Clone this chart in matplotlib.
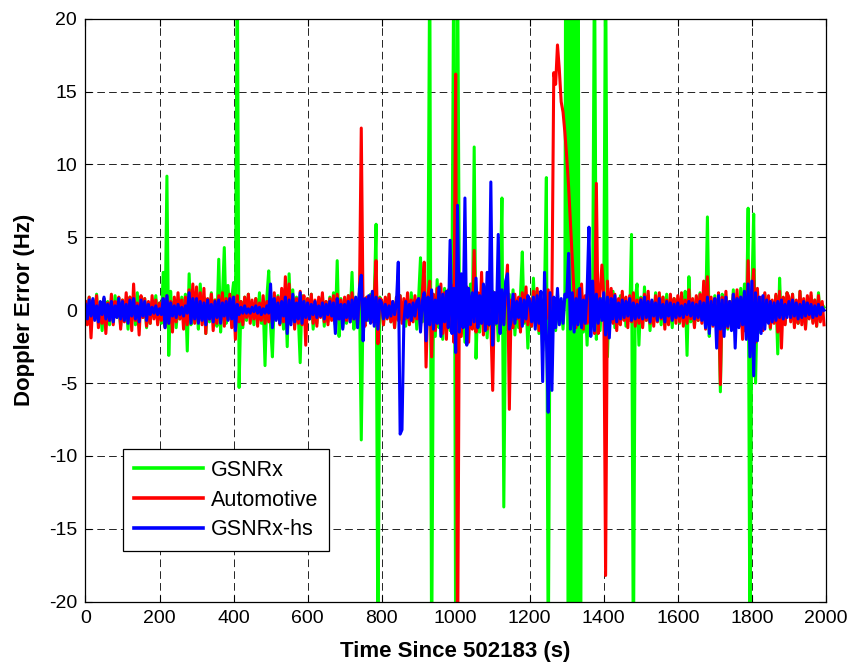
import numpy as np
import matplotlib
matplotlib.use("Agg")
import matplotlib.pyplot as plt

plt.rcParams["font.family"] = ["Liberation Sans", "DejaVu Sans"]
plt.rcParams["axes.unicode_minus"] = False
plt.rcParams["lines.scale_dashes"] = False

# one sample every 5 s
t = np.arange(0, 2000, 5)

gsnrx = [
    0.3, -0.8, 0.9, -1.2, 0.5, -0.4, 1.1, -0.9, 0.2, -1.4, 0.8, -0.3, 0.6, -1.0, 0.4, -0.7, 1.0, -0.5, 0.3, -1.1,
    0.7, -0.6, 0.2, -1.3, 0.9, -0.4, 0.5, -1.0, 1.2, -0.8, 0.3, -0.5, 0.8, -1.2, 0.4, -0.9, 0.6, -0.3, 1.0, -0.7,
    0.5, -0.9, 2.6, -1.1, 9.2, -3.1, 1.3, -0.8, 0.6, -1.2, 0.4, -0.6, 0.9, -0.5, 1.1, -2.8, 2.5, -1.0, 0.7, -0.4,
    0.4, -1.3, 1.8, -0.5, 0.9, -1.6, 0.6, -0.8, 1.2, -0.4, 0.7, -1.1, 3.5, -1.5, 0.9, 4.3, -0.9, 1.7, -0.6, 0.8,
    1.9, -1.0, 25.0, -5.3, 0.6, -1.2, 0.9, -0.7, 1.1, -0.5, 0.4, -1.0, 0.8, -0.6, 1.2, -0.9, 0.5, -3.8, 0.9, 2.7,
    -1.1, -3.2, 0.8, -0.6, 1.0, -0.9, 0.6, -1.3, 1.2, -2.5, 2.5, -0.8, 1.4, -1.0, 0.9, -0.5, -3.6, 1.0, -0.8, 0.6,
    0.8, -0.6, 1.1, -1.3, 0.5, -0.9, 0.7, -0.4, 1.0, -1.1, 0.6, -0.8, 0.9, -0.5, 1.2, -1.0, 3.4, -1.8, 0.8, -1.2,
    0.5, -0.9, 1.0, -0.6, 2.6, -1.3, 0.7, -0.5, 1.2, -8.9, 0.6, -1.0, 0.9, -0.7, 1.1, -0.6, 0.8, 5.9, -25.0, 0.9,
    0.6, -1.0, 0.8, -0.5, 1.1, -0.8, 0.5, -1.2, 0.9, -0.6, 1.0, -0.7, 0.4, -1.1, 0.8, -0.9, 1.2, -0.5, 0.7, -1.3,
    0.9, 3.6, -0.8, 1.2, -1.5, 0.7, 25.0, -25.0, 1.0, -1.8, 2.1, -1.2, 0.8, -2.0, 1.5, -1.0, 0.9, -1.4, 1.9, 25.0,
    -25.0, 25.0, 1.0, -1.6, 0.8, -2.2, 1.4, -0.9, 1.8, -1.2, 11.2, -3.3, 0.9, -1.5, 1.2, -0.7, 1.6, -1.9, 0.8, -1.1,
    1.3, -1.0, 0.7, -2.1, 1.5, 7.7, -13.5, 0.9, -1.3, 1.1, -0.8, 1.4, -1.7, 0.6, -1.2, 1.0, 4.0, -0.9, 0.8, -2.6,
    0.7, -1.1, 2.2, -0.8, 1.3, -1.6, 0.9, -2.8, 1.0, 9.1, -25.0, 1.2, -1.9, 0.8, -1.4, 1.1, -0.9, 0.6, -1.3, 1.0,
    60.0, -60.0, 60.0, -60.0, 60.0, -60.0, 60.0, -60.0, 1.2, -1.5, 0.9, -2.4, 1.6, -0.8, 1.3, 25.0, -2.0, 1.0, -1.4, 0.8,
    0.6, 25.0, -3.2, 1.1, -0.8, 1.3, -1.2, 0.7, -0.9, 1.0, -0.6, 0.8, -1.1, 0.5, -0.7, 5.2, -25.0, 0.8, 1.8, -2.4,
    0.9, -1.1, 1.6, -0.7, 1.0, -1.4, 0.6, -0.8, 1.2, -0.5, 0.7, -1.0, 0.9, -0.6, 1.1, -0.9, 0.5, -1.2, 0.8, -0.4,
    0.7, -0.9, 1.0, -0.5, 1.3, -3.1, 2.3, -0.8, 0.6, -1.1, 0.9, -0.7, 1.2, -0.6, 0.8, -1.0, 6.4, -1.8, 0.7, -0.9,
    1.0, -1.2, 0.8, -5.6, 1.1, -0.7, 0.9, -1.3, 0.6, -1.0, 1.4, -0.8, 0.7, -1.1, 1.5, -0.9, 1.8, -1.4, 7.0, -25.0,
    1.2, 6.6, -5.0, 1.0, -1.5, 0.8, -1.2, 1.1, -0.7, 0.9, -1.3, 0.6, -0.8, 1.0, -3.0, 2.2, -1.1, 0.7, -0.9, 1.2,
    0.8, -0.6, 1.1, -1.0, 0.5, -0.9, 1.3, -0.7, 0.6, -1.2, 0.9, -0.5, 1.0, -0.8, 0.7, -1.1, 1.2, -0.6, 0.4, 0.2,
]

automotive = [
    0.6, -1.0, 0.9, -1.9, 0.7, -0.5, 1.0, -1.2, 0.4, -0.9, 0.8, -1.6, 0.5, -0.7, 1.1, -1.0, 0.6, -0.4, 0.9, -1.3,
    0.7, -0.8, 1.2, -0.6, 0.9, -1.4, 1.8, -0.7, 0.5, -1.7, 1.0, -0.5, 0.8, -1.1, 0.6, -0.9, 1.0, -0.6, 0.7, -1.0,
    0.5, -0.7, 0.8, -1.2, 1.0, -0.9, 0.6, -1.5, 0.9, -0.8, 1.2, -0.6, 0.7, -1.3, 0.9, -1.0, 1.4, -0.7, 1.8, -0.9,
    1.6, -0.8, 1.2, -1.0, 1.5, -1.6, 0.8, -0.6, 1.1, -1.4, 0.7, -0.9, 1.0, -0.7, 1.2, -1.1, 0.8, -0.6, 1.1, -1.2,
    0.9, -2.0, 1.0, -0.8, 0.6, -1.0, 0.9, -0.5, 1.1, -0.9, 0.7, -0.6, 0.8, -1.1, 0.5, -0.7, 1.0, -0.9, 0.6, -0.8,
    0.7, -0.9, 1.2, -0.6, 0.9, -1.0, 1.5, -0.8, 2.3, -1.2, 1.8, -0.7, 1.0, -1.3, 0.8, -0.9, 1.3, -1.0, 1.0, -2.4,
    0.8, -0.6, 1.1, -0.9, 0.7, -1.1, 0.9, -0.5, 1.2, -0.8, 0.6, -1.0, 0.8, -0.7, 1.0, -0.9, 1.1, -0.6, 0.7, -0.8,
    0.9, -0.7, 1.0, -0.8, 1.2, -0.6, 0.8, -1.0, 0.7, 12.5, -0.3, -1.1, 0.9, -0.6, 1.0, -0.8, 0.7, 3.4, -2.3, 0.8,
    0.7, -1.0, 0.9, -0.6, 1.1, -0.8, 0.6, -1.2, 0.9, -0.7, 1.0, -0.9, 0.8, -0.6, 1.2, -1.0, 0.7, -0.8, 1.0, -0.6,
    0.8, -1.1, 1.3, 3.3, -3.9, 1.0, 2.0, -3.2, 1.1, -1.4, 1.5, -0.9, 1.8, -1.6, 1.2, -2.0, 1.4, -1.1, 1.7, -2.2,
    16.2, -25.0, 1.5, -1.8, 2.1, -1.0, 1.6, -2.2, 0.9, -1.3, 4.1, -1.5, 1.2, -0.9, 2.6, -1.7, 1.0, -1.3, 1.8, -0.8,
    -5.5, 1.2, -0.8, 1.4, -1.4, 1.0, -0.9, 1.3, 3.1, -6.8, 0.7, -1.2, 1.1, -0.6, 0.9, -1.5, 1.2, -0.8, 1.6, -1.0,
    0.8, -1.1, 1.3, -0.9, 1.5, -1.4, 0.7, -1.8, 1.2, -0.6, 1.4, -1.0, 1.0, 16.3, 15.5, 18.2, 16.5, 14.3, 13.6, 12.2,
    10.5, 8.5, 6.0, 3.5, 1.0, -1.2, 1.4, -0.8, 1.8, -1.3, 1.0, -0.9, 2.2, -1.1, 1.2, -1.6, 8.7, -1.6, 1.2, 3.1,
    1.0, -18.2, 2.0, -1.2, 1.5, -0.9, 1.1, -1.4, 0.8, -1.0, 1.3, -0.7, 0.9, -1.2, 1.0, -0.8, 1.2, -1.1, 0.7, -0.9,
    0.8, -1.2, 1.1, -0.7, 1.3, -0.9, 0.6, -1.1, 1.0, -0.8, 1.2, -0.6, 0.9, -1.3, 0.7, -1.0, 1.1, -0.6, 0.8, -0.9,
    1.0, -0.8, 1.2, -1.1, 0.7, -0.9, 1.4, -0.6, 0.8, -1.2, 1.0, -0.7, 1.1, -0.9, 2.0, -1.3, 2.3, -1.0, 0.9, -1.1,
    0.8, -1.0, 1.2, -5.1, 0.9, -0.7, 1.3, -1.2, 0.6, -0.9, 1.1, -0.8, 1.4, -1.1, 0.9, -2.0, 1.2, -1.5, 3.4, -1.8,
    1.0, 2.8, -2.2, 1.5, -1.1, 0.9, -1.4, 1.2, -0.8, 1.0, -1.2, 0.7, -0.9, 1.1, -1.5, 1.3, -2.6, 0.9, -1.0, 1.2,
    0.9, -0.8, 1.1, -1.2, 0.7, -0.9, 1.3, -1.0, 0.8, -1.3, 1.0, -0.6, 1.2, -0.9, 0.7, -1.1, 1.0, -0.8, 0.6, -1.0,
]

gsnrx_hs = [
    0.4, -0.6, 0.7, -0.4, 0.8, -0.7, 0.3, -0.8, 0.6, -0.3, 0.9, -0.6, 0.4, -0.7, 0.6, -0.8, 0.3, -0.5, 0.8, -0.6,
    0.6, -0.7, 0.4, -0.9, 0.7, -0.4, 0.8, -0.6, 0.3, -0.8, 0.7, -0.4, 0.6, -0.7, 0.4, -0.3, 0.2, -0.2, 0.3, -0.3,
    0.1, -0.3, 0.8, -1.2, 1.0, -0.9, 0.5, -0.4, 0.3, -0.5, 0.4, -0.3, 0.2, -0.4, 0.3, -0.2, 1.2, -0.9, 0.8, -0.6,
    0.8, -0.9, 0.6, -0.7, 0.5, -1.0, 0.7, -0.6, 0.4, -0.8, 0.6, -0.5, 0.7, -0.9, 0.5, -0.4, 0.6, -0.7, 0.8, -0.6,
    0.9, -1.4, 0.4, -0.3, 0.2, -0.2, 0.3, -0.2, 0.1, -0.2, 0.2, -0.1, 0.3, -0.2, 0.2, -0.3, 0.1, -0.2, 0.3, -0.2,
    1.8, -1.2, 0.8, -0.7, 0.5, -0.9, 0.6, -0.4, 0.9, -1.6, 0.7, -1.0, 1.1, -0.8, 0.5, -0.6, 1.2, -0.9, 0.6, -0.5,
    0.5, -0.6, 0.4, -0.3, 0.6, -0.5, 0.3, -0.4, 0.5, -0.6, 0.4, -0.3, 0.6, -0.4, 0.5, -1.6, 0.8, -0.6, 0.4, -1.3,
    0.4, -0.5, 0.6, -0.8, 0.7, -0.6, 0.9, -1.2, 1.5, 2.4, -2.1, 0.8, -0.7, 1.0, -0.9, 1.3, -1.1, 0.9, -1.3, 0.7,
    0.5, -0.6, 0.4, -0.5, 0.3, -0.4, 0.6, -0.3, 0.5, 3.3, -8.5, -8.2, -0.8, 0.6, -0.5, 0.4, -0.7, 0.5, -0.4, 0.6,
    0.8, -1.5, 0.6, 1.2, -2.1, 0.9, -1.0, 1.4, -1.3, 0.7, -0.9, 1.6, -1.8, 1.1, -0.8, 1.3, -1.2, 4.8, -1.6, 1.5,
    -2.9, 7.2, -1.5, 2.5, -1.2, 7.7, -2.4, 1.5, -1.0, 1.2, -0.8, 2.2, -1.2, 1.0, -0.9, 1.8, -1.4, 2.6, -1.0, 8.8,
    -2.4, 1.2, -0.9, 5.2, -1.6, 1.4, -1.0, 2.0, 2.5, -1.3, -0.7, 1.1, -0.9, 0.6, -0.5, 0.8, -1.1, 0.7, -0.6, 1.0,
    0.6, -0.8, 0.9, -1.3, 1.0, -0.9, 1.3, -4.9, 2.6, -1.8, -7.0, 1.2, -5.5, 0.9, -1.2, 1.5, -1.0, 0.8, -0.9, 1.1,
    0.9, 3.9, -1.3, 1.2, -1.5, 0.8, -1.0, 1.5, -1.2, 0.7, -0.9, 1.3, 5.7, -1.8, 2.0, -1.4, 1.1, -0.9, 0.8, -0.7,
    1.2, -1.7, 0.9, -1.9, 0.8, -0.6, 1.0, -0.8, 0.5, -0.6, 0.7, -0.5, 0.6, -0.4, 0.8, -0.7, 0.5, -0.6, 0.4, -0.5,
    0.7, -0.6, 0.9, -0.5, 0.6, -0.8, 0.7, -0.4, 0.5, -0.7, 0.8, -0.5, 0.4, -0.8, 0.6, -0.4, 0.5, -0.7, 0.4, -0.5,
    0.5, -0.4, 0.3, -0.5, 0.4, -0.3, 0.6, -0.4, 0.5, -0.6, 0.4, -0.5, 0.6, -0.7, 0.5, -1.2, 0.9, -1.6, 0.6, -1.0,
    0.8, -2.6, 1.0, -1.3, 0.7, -1.8, 0.9, -1.1, 0.6, -1.4, 1.1, -2.6, 0.8, -1.2, 0.9, -1.0, 1.3, -2.0, 1.8, -3.2,
    2.0, -4.5, 1.2, -2.1, 0.9, -1.6, 1.0, -1.3, 0.7, -0.9, 0.6, -0.8, 0.5, -0.7, 0.6, -0.5, 0.7, -0.6, 0.4, -0.5,
    0.6, -0.5, 0.7, -0.4, 0.5, -0.6, 0.4, -0.5, 0.6, -0.4, 0.5, -0.3, 0.4, -0.5, 0.3, -0.4, 0.4, -0.3, 0.2, 0.0,
]

xticks = np.arange(0, 2001, 200)
yticks = np.arange(-20, 21, 5)

fig = plt.figure(figsize=(8.53, 6.64), dpi=100)
ax = fig.add_axes([0.1002, 0.0938, 0.8680, 0.8780])

ax.plot(t, gsnrx, color="#00ff00", lw=2.2, label="GSNRx")
ax.plot(t, automotive, color="#ff0000", lw=2.2, label="Automotive")
ax.plot(t, gsnrx_hs, color="#0000ff", lw=2.2, label="GSNRx-hs")

ax.set_xlim(0, 2000)
ax.set_ylim(-20, 20)
ax.set_xticks(xticks)
ax.set_yticks(yticks)
ax.tick_params(direction="in", top=True, right=True, length=5, width=0.8,
               labelsize=14, pad=6)
ax.grid(True, color="black", lw=0.6, linestyle=(0, (5.5, 3.0)))
for s in ax.spines.values():
    s.set_linewidth(0.9)

ax.set_xlabel("Time Since 502183 (s)", fontsize=16, fontweight="bold", labelpad=10)
ax.set_ylabel("Doppler Error (Hz)", fontsize=16, fontweight="bold", labelpad=10)

leg = ax.legend(loc="lower left", bbox_to_anchor=(0.0506, 0.087), fontsize=15.5,
                handlelength=3.2, handletextpad=0.4, borderpad=0.5,
                labelspacing=0.4, fancybox=False, framealpha=1,
                edgecolor="black", borderaxespad=0)
leg.get_frame().set_linewidth(0.9)
for line in leg.get_lines():
    line.set_linewidth(2.6)

fig.savefig("out.png", dpi=100)
